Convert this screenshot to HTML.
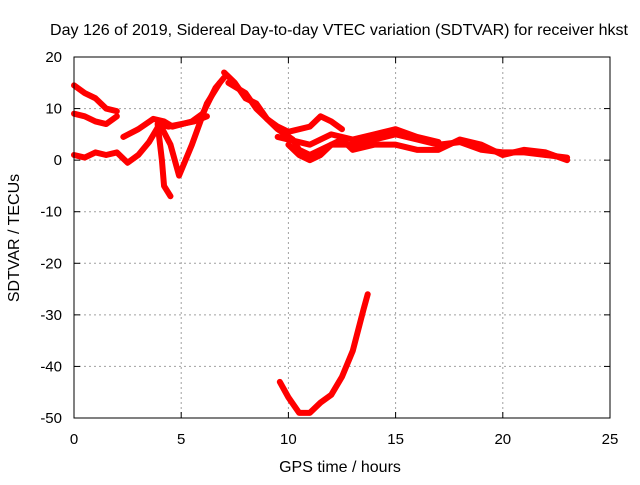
<!DOCTYPE html>
<html><head><meta charset="utf-8"><style>
body{margin:0;background:#fff;}
svg{font-family:"Liberation Sans",sans-serif;font-size:16px;}
</style></head><body>
<svg id="chart" width="640" height="480" xmlns="http://www.w3.org/2000/svg">
<rect width="640" height="480" fill="#fff"/>
<text x="339" y="35" text-anchor="middle" textLength="578" lengthAdjust="spacingAndGlyphs">Day 126 of 2019, Sidereal Day-to-day VTEC variation (SDTVAR) for receiver hkst</text>
<text x="340" y="472" text-anchor="middle">GPS time / hours</text>
<text transform="translate(19,238) rotate(-90)" text-anchor="middle">SDTVAR / TECUs</text>
<g id="grid"></g><g id="series"></g>
<rect x="74" y="57" width="536" height="361" fill="none" stroke="#000" stroke-width="1"/>
<g id="ticks"></g>
</svg>
<script>
const xTicks=[0,5,10,15,20,25];
const yTicks=[-50,-40,-30,-20,-10,0,10,20];
const traceA=[[0,14.5],[0.5,13],[1,12],[1.5,10],[2,9.5]];
const traceB=[[0,9],[0.5,8.5],[1,7.5],[1.5,7],[2,8.5]];
const traceC=[[0,1],[0.5,0.5],[1,1.5],[1.5,1],[2,1.5],[2.5,-0.5],[3,1],[3.5,3.5],[4,7],[4.4,6.5],[5,7],[5.6,7.5],[6.2,8.5]];
const traceD=[[2.3,4.5],[3,6],[3.7,8],[4.2,7.5],[4.6,6.5],[5.5,7.5],[6,9],[6.6,14],[7,16]];
const traceE=[[3.9,7],[4.1,0],[4.2,-5],[4.5,-7]];
const traceF=[[4,7],[4.5,3],[4.9,-3],[5.5,3],[6.2,11],[6.8,15]];
const traceG=[[7,17],[7.5,15],[8,12],[8.5,11],[9,8],[9.5,6.5],[10,5.5],[11,6.5],[11.5,8.5],[12,7.5],[12.5,6]];
const traceH=[[7.2,15],[8,13],[8.5,10],[9,8],[9.5,6],[10.2,4],[10.5,2],[11,1],[12,3],[13,3],[14,4],[15,5],[16,4],[17,3],[18,3.5],[19,2],[20,1.5],[21,1.5],[22,1],[23,0.5]];
const traceI=[[10,3],[10.5,1],[11,0],[11.5,1],[12,3],[12.5,4],[13,2],[14,3],[15,3],[16,2],[17,2],[18,4],[19,3],[20,1],[21,2],[22,1.5],[23,0]];
const traceJ=[[9.5,4.5],[11,3],[12,5],[13,4],[14,5],[15,6],[16,4.5],[17,3.5]];
const traceK=[[9.6,-43],[10,-46],[10.5,-49],[11,-49],[11.5,-47],[12,-45.5],[12.5,-42],[13,-37],[13.5,-29],[13.7,-26]];
const traces=[traceA,traceB,traceC,traceD,traceE,traceF,traceG,traceH,traceI,traceJ,traceK];
const NS="http://www.w3.org/2000/svg";
const xs=h=>74+h*536/25, ys=v=>57+(20-v)*361/70;
const grid=document.getElementById('grid'),ticks=document.getElementById('ticks'),ser=document.getElementById('series');
function mk(tag,attrs,parent,txt){const e=document.createElementNS(NS,tag);for(const k in attrs)e.setAttribute(k,attrs[k]);if(txt!=null)e.textContent=txt;parent.appendChild(e);return e;}
xTicks.forEach(t=>{const x=xs(t);
 if(t>0&&t<25){const g=mk('line',{x1:x,x2:x,y1:57,y2:418,stroke:'#a0a0a0','stroke-dasharray':'2,3'},grid);
 
 }
 const l=mk('text',{x:x,y:444,'text-anchor':'middle','font-size':15},ticks,t);
 
 
 mk('line',{x1:x,x2:x,y1:418,y2:412,stroke:'#000'},ticks);mk('line',{x1:x,x2:x,y1:57,y2:63,stroke:'#000'},ticks);});
yTicks.forEach(t=>{const y=ys(t);
 if(t>-50&&t<20){const g=mk('line',{x1:74,x2:610,y1:y,y2:y,stroke:'#a0a0a0','stroke-dasharray':'2,3'},grid);
 
 }
 const l=mk('text',{x:62,y:y+5,'text-anchor':'end','font-size':15},ticks,t);
 
 
 mk('line',{x1:74,x2:80,y1:y,y2:y,stroke:'#000'},ticks);mk('line',{x1:610,x2:604,y1:y,y2:y,stroke:'#000'},ticks);});
traces.forEach(tr=>{const p=mk('polyline',{points:tr.map(d=>xs(d[0])+','+ys(d[1])).join(' '),fill:'none',stroke:'#ff0000','stroke-width':6,'stroke-linejoin':'round','stroke-linecap':'round'},ser);
 
 });
</script>
</body></html>
